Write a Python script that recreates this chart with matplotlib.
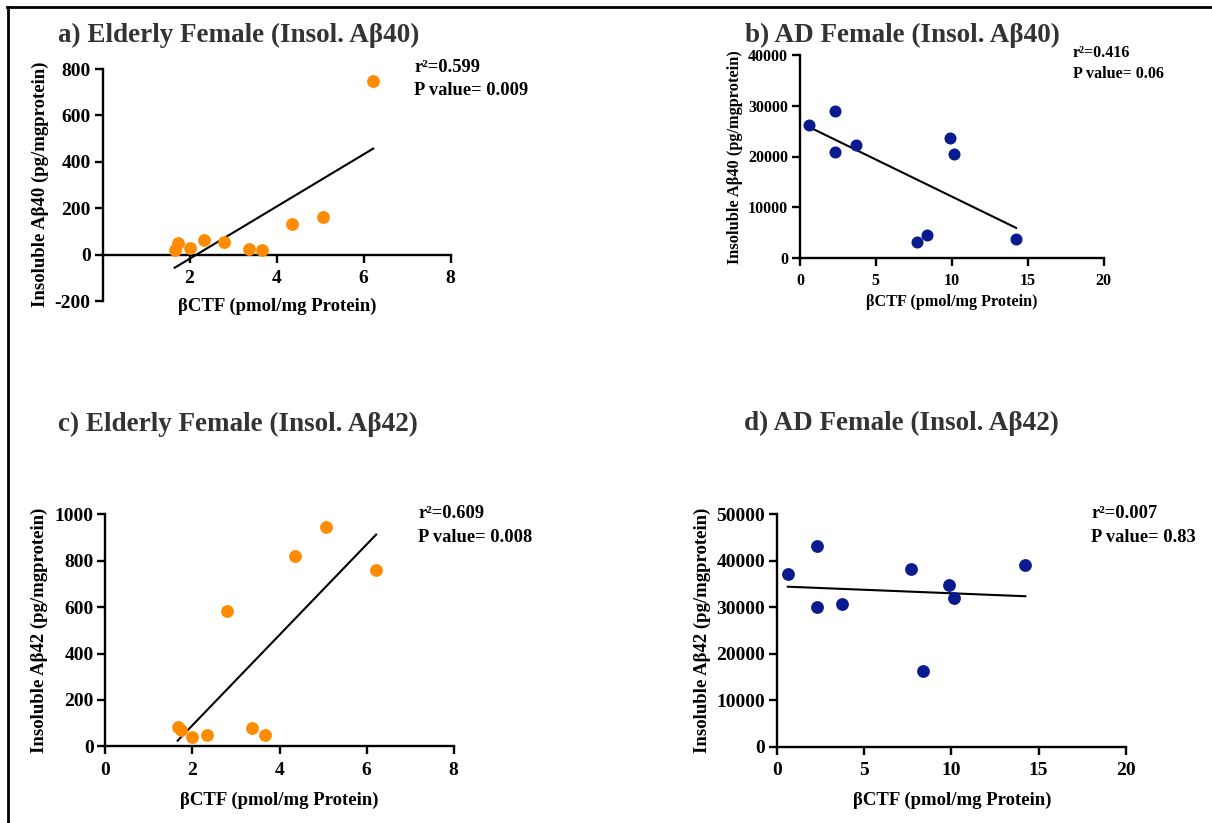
import numpy as np
import matplotlib
matplotlib.use("Agg")
import matplotlib.pyplot as plt
from matplotlib.lines import Line2D

plt.rcParams['font.family'] = ['Liberation Serif', 'DejaVu Serif']
plt.rcParams['font.weight'] = 'bold'
plt.rcParams['axes.unicode_minus'] = False

# elderly female samples (same bCTF values in both panels)
eld_x = [1.66, 1.74, 2.0, 2.34, 2.79, 3.37, 3.67, 4.35, 5.07, 6.22]
eld_ab40 = [20, 48, 30, 65, 56, 25, 20, 132, 163, 747]
eld_ab42 = [85, 70, 39, 47, 582, 79, 47, 822, 947, 761]

# AD female samples
ad_x = [0.61, 2.29, 2.31, 3.72, 7.70, 8.37, 9.88, 10.13, 14.24]
ad_ab40 = [26200, 29000, 20900, 22300, 3100, 4500, 23600, 20400, 3800]
ad_ab42 = [37200, 30100, 43200, 30800, 38300, 16300, 34800, 31900, 39100]

titles = ['a) Elderly Female (Insol. A\u03b240)', 'b) AD Female (Insol. A\u03b240)',
          'c) Elderly Female (Insol. A\u03b242)', 'd) AD Female (Insol. A\u03b242)']
ylabels = ['Insoluble A\u03b240 (pg/mgprotein)', 'Insoluble A\u03b240 (pg/mgprotein)',
           'Insoluble A\u03b242 (pg/mgprotein)', 'Insoluble A\u03b242 (pg/mgprotein)']
xlabel = '\u03b2CTF (pmol/mg Protein)'
stats = [('r\u00b2=0.599', 'P value= 0.009'), ('r\u00b2=0.416', 'P value= 0.06'),
         ('r\u00b2=0.609', 'P value= 0.008'), ('r\u00b2=0.007', 'P value= 0.83')]

orange = '#ff8c00'
navy = '#0a1a8f'

W, H = 1212, 823
fig = plt.figure(figsize=(W / 100, H / 100), dpi=100)

def px_axes(x0, x1, ytop, ybot):
    return fig.add_axes([x0 / W, 1 - ybot / H, (x1 - x0) / W, (ybot - ytop) / H])

# frame lines (top and left)
fig.add_artist(Line2D([7 / W, 1], [1 - 7 / H, 1 - 7 / H], color='black', lw=2))
fig.add_artist(Line2D([8 / W, 8 / W], [0, 1 - 7 / H], color='black', lw=2))

# panel b is drawn with slightly smaller text in the original
big = dict(tick=14, ylab=13.5, xlab=13.5, st=13.3)
small = dict(tick=11.5, ylab=11.8, xlab=11.7, st=11.6)

panels = [
    dict(box=(102.5, 450.7, 69, 301), x=eld_x, y=eld_ab40, c=orange, s=85, xlim=(0, 8), ylim=(-200, 800),
         xt=[2, 4, 6, 8], yt=[-200, 0, 200, 400, 600, 800], tpos=(58, 42),
         ylc=(40, 184), xlc=(277, 306), spos=(414, 72), gap=23, fs=big),
    dict(box=(800, 1103.5, 55, 258), x=ad_x, y=ad_ab40, c=navy, s=75, xlim=(0, 20), ylim=(0, 40000),
         xt=[0, 5, 10, 15, 20], yt=[0, 10000, 20000, 30000, 40000], tpos=(745, 42),
         ylc=(735, 157), xlc=(952, 302), spos=(1073, 57), gap=21, fs=small),
    dict(box=(105.4, 453.6, 514.3, 746.3), x=eld_x, y=eld_ab42, c=orange, s=85, xlim=(0, 8), ylim=(0, 1000),
         xt=[0, 2, 4, 6, 8], yt=[0, 200, 400, 600, 800, 1000], tpos=(58, 431),
         ylc=(39, 630), xlc=(279, 800), spos=(418, 518), gap=24, fs=big),
    dict(box=(777.2, 1125.7, 514.3, 746.7), x=ad_x, y=ad_ab42, c=navy, s=85, xlim=(0, 20), ylim=(0, 50000),
         xt=[0, 5, 10, 15, 20], yt=[0, 10000, 20000, 30000, 40000, 50000], tpos=(744.5, 430),
         ylc=(702, 630), xlc=(952, 800), spos=(1091, 518), gap=24, fs=big),
]

for i, p in enumerate(panels):
    x0, x1, ytop, ybot = p['box']
    fs = p['fs']
    ax = px_axes(x0, x1, ytop, ybot)
    xs = np.array(p['x'])
    ys = np.array(p['y'])
    ax.scatter(xs, ys, s=p['s'], color=p['c'], zorder=3, clip_on=False, linewidths=0)
    k, b = np.polyfit(xs, ys, 1)
    xx = np.array([xs.min(), xs.max()])
    ax.plot(xx, k * xx + b, color='black', lw=1.5, zorder=2, clip_on=False)

    ax.set_xlim(*p['xlim'])
    ax.set_ylim(*p['ylim'])
    ax.set_xticks(p['xt'])
    ax.set_yticks(p['yt'])
    for s in ['top', 'right']:
        ax.spines[s].set_visible(False)
    ax.spines['bottom'].set_position(('data', 0))
    ax.spines['left'].set_position(('data', 0))
    for s in ['bottom', 'left']:
        ax.spines[s].set_linewidth(1.7)
    ax.tick_params(width=1.7, length=6, labelsize=fs['tick'])
    ax.tick_params(axis='x', pad=5)
    ax.tick_params(axis='y', pad=2.5)
    for lab in ax.get_xticklabels() + ax.get_yticklabels():
        lab.set_fontweight('bold')

    ax.set_ylabel(ylabels[i], fontsize=fs['ylab'], fontweight='bold', va='center')
    ax.yaxis.set_label_coords((p['ylc'][0] - x0) / (x1 - x0), (ybot - p['ylc'][1]) / (ybot - ytop))
    ax.set_xlabel(xlabel, fontsize=fs['xlab'], fontweight='bold', va='center')
    ax.xaxis.set_label_coords((p['xlc'][0] - x0) / (x1 - x0), (ybot - p['xlc'][1]) / (ybot - ytop))

    fig.text(p['tpos'][0] / W, 1 - p['tpos'][1] / H, titles[i], fontsize=19.5,
             fontweight='bold', color='#333333', ha='left', va='baseline')
    sx, sy = p['spos']
    fig.text(sx / W, 1 - sy / H, stats[i][0], fontsize=fs['st'], fontweight='bold', va='baseline')
    fig.text(sx / W, 1 - (sy + p['gap']) / H, stats[i][1], fontsize=fs['st'],
             fontweight='bold', va='baseline')

fig.savefig('out.png', dpi=100, facecolor='white')
